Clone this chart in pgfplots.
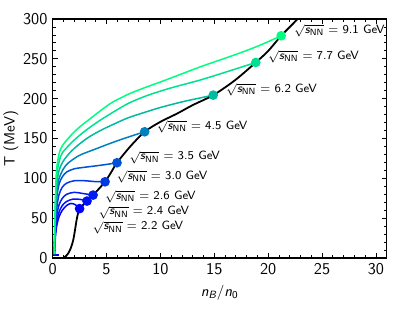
\documentclass[border=0pt]{standalone}
\usepackage{amsmath}
\usepackage{pgfplots}
\pgfplotsset{compat=1.18}
\renewcommand{\familydefault}{\sfdefault}
\definecolor{c22}{rgb}{0,0,1}
\definecolor{c24}{rgb}{0,0.061,0.970}
\definecolor{c26}{rgb}{0,0.118,0.941}
\definecolor{c30}{rgb}{0,0.218,0.891}
\definecolor{c35}{rgb}{0,0.327,0.837}
\definecolor{c45}{rgb}{0,0.504,0.748}
\definecolor{c62}{rgb}{0,0.730,0.635}
\definecolor{c77}{rgb}{0,0.882,0.559}
\definecolor{c91}{rgb}{0,1,0.5}
\newcommand{\lab}[1]{$\sqrt{\textit{s}_{\text{NN}}}$ = #1 GeV}
\begin{document}
\begin{tikzpicture}
\begin{axis}[
  name=ax,
  scale only axis, width=222.7pt, height=159.3pt,
  xmin=0, xmax=31, ymin=0, ymax=300,
  xtick={0,5,...,30}, ytick={0,50,...,300},
  minor x tick num=4, minor y tick num=4,
  tick align=inside,
  major tick length=3.3pt, minor tick length=2pt,
  every tick/.style={black, line width=0.6pt},
  axis line style={line width=0.9pt},
  /pgf/number format/assume math mode=true,
  ticklabel style={font=\fontsize{11}{13}\selectfont},
  label style={font=\fontsize{13}{15}\selectfont},
  xlabel={\textit{n}$_{\textit{B}}$/\textit{n}$_{\text{0}}$},
  ylabel={T (MeV)},
  every axis x label/.style={at={(axis description cs:0.5,-0.146)}, anchor=center},
  every axis y label/.style={at={(axis description cs:-0.125,0.5)}, anchor=center, rotate=90},
  every axis plot/.append style={line width=1pt},
]
% colored trajectories
\addplot[c22, smooth] coordinates {(0.15,5)(0.2,17)(0.28,30)(0.4,42)(0.6,52)(0.9,60)(1.3,66)(1.7,68.5)(2.1,67)(2.5,62)};
\addplot[c22] coordinates {(0,4)(0.6,4)};
\addplot[c24, smooth] coordinates {(0.15,5)(0.2,20)(0.28,35)(0.4,48)(0.6,58)(0.9,66)(1.3,71)(1.9,74)(2.6,73.5)(3.19,71.5)};
\addplot[c26, smooth] coordinates {(0.15,5)(0.2,22)(0.28,40)(0.4,55)(0.6,67)(0.9,75)(1.3,80)(2.0,82.5)(2.8,81)(3.75,79)};
\addplot[c30, smooth] coordinates {(0.15,5)(0.2,25)(0.28,48)(0.4,65)(0.6,80)(0.9,89)(1.3,94)(2.0,97)(3.0,97)(3.9,96)(4.86,95.7)};
\addplot[c35, smooth] coordinates {(0.15,5)(0.2,28)(0.28,55)(0.4,78)(0.6,93)(0.9,102)(1.3,108)(2.0,112)(3.0,114)(3.9,115.5)(5.0,117.5)(5.97,119.6)};
\addplot[c45, smooth] coordinates {(0.15,5)(0.2,30)(0.28,60)(0.4,85)(0.6,100)(1.0,112)(1.42,119)(2.07,125.5)(2.66,130)(4.2,138)(5.16,143)(6.71,150.5)(8.54,158.5)};
\addplot[c62, smooth] coordinates {(0.15,5)(0.2,35)(0.28,70)(0.4,95)(0.6,110)(1.0,122)(1.76,134.5)(2.66,145)(3.5,153)(4.5,160.5)(5.5,167)(7,176)(8.57,183)(10,189)(12,196)(13.7,201)(14.9,204.5)};
\addplot[c77, smooth] coordinates {(0.15,5)(0.2,40)(0.28,78)(0.37,103)(0.6,121)(0.9,132)(1.76,145)(2.5,154)(3.3,162.5)(4.3,172)(5.48,182)(7,194)(8.57,203)(10,209.5)(11.36,215)(13.7,223.5)(16.2,234)(18.85,245.5)};
\addplot[c91, smooth] coordinates {(0.15,5)(0.2,45)(0.28,85)(0.37,112)(0.6,131)(0.9,141)(1.76,155)(2.5,164.5)(3.3,173)(4.3,183.5)(5.48,195)(7.0,205.5)(8.57,214)(10,221)(11.36,228)(13.7,240)(15.5,248.5)(17.4,257.5)(19.3,267.5)(21.2,279)};
% freeze-out line
\addplot[black, smooth, line width=1.2pt] coordinates {(0.96,0)(1.2,2)(1.45,6)(1.7,13)(1.9,22)(2.05,33)(2.2,46)(2.35,56)(2.5,62)(2.85,67)(3.19,71.5)(3.75,79)(4.3,87)(4.86,95.7)(5.4,107)(5.97,119.6)(7.2,140)(8.54,158.5)(10,171)(11.5,181)(13,192)(14.9,204.5)(16.9,223)(18.85,245.5)(20,260)(21.2,279)(22.0,290)(23.1,305)};
% end points
\addplot[only marks, mark=*, mark size=2.7pt, c22] coordinates {(2.5,62)};
\addplot[only marks, mark=*, mark size=2.7pt, c24] coordinates {(3.19,71.5)};
\addplot[only marks, mark=*, mark size=2.7pt, c26] coordinates {(3.75,79)};
\addplot[only marks, mark=*, mark size=2.7pt, c30] coordinates {(4.86,95.7)};
\addplot[only marks, mark=*, mark size=2.7pt, c35] coordinates {(5.97,119.6)};
\addplot[only marks, mark=*, mark size=2.7pt, c45] coordinates {(8.54,158.5)};
\addplot[only marks, mark=*, mark size=2.7pt, c62] coordinates {(14.9,204.5)};
\addplot[only marks, mark=*, mark size=2.7pt, c77] coordinates {(18.85,245.5)};
\addplot[only marks, mark=*, mark size=2.7pt, c91] coordinates {(21.2,279)};
% labels
\begin{scope}[every node/.style={anchor=west, inner sep=0pt, font=\footnotesize}]
\node at (axis cs:22.4,284.8) {\lab{9.1}};
\node at (axis cs:20.0,252.2) {\lab{7.7}};
\node at (axis cs:16.1,210.8) {\lab{6.2}};
\node at (axis cs:9.66,164.7) {\lab{4.5}};
\node at (axis cs:7.11,126.3) {\lab{3.5}};
\node at (axis cs:5.94,102) {\lab{3.0}};
\node at (axis cs:4.86,76.9) {\lab{2.6}};
\node at (axis cs:4.25,57.3) {\lab{2.4}};
\node at (axis cs:3.71,38.5) {\lab{2.2}};
\end{scope}
\end{axis}
\pgfresetboundingbox
\path[use as bounding box] ([shift={(-35.1pt,-38.7pt)}]ax.south west) rectangle ([shift={(13.5pt,12.7pt)}]ax.north east);
\end{tikzpicture}
\end{document}
